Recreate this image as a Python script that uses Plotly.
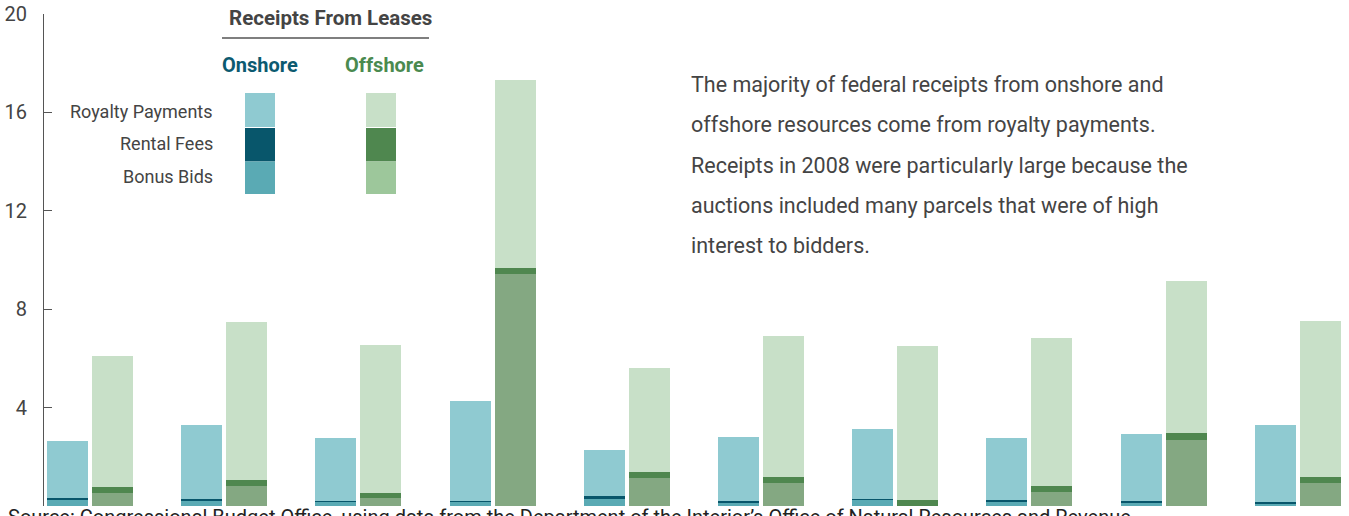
import plotly.graph_objects as go

# ---- data (billions of dollars) ----
years = ["2005", "2006", "2007", "2008", "2009", "2010", "2011", "2012", "2013", "2014"]
on_bonus = [0.26, 0.21, 0.17, 0.17, 0.32, 0.13, 0.26, 0.20, 0.16, 0.12]
on_rental = [0.05, 0.09, 0.05, 0.05, 0.08, 0.08, 0.04, 0.05, 0.04, 0.04]
on_royalty = [2.32, 2.98, 2.53, 4.03, 1.87, 2.58, 2.82, 2.50, 2.72, 3.12]
off_bonus = [0.53, 0.81, 0.32, 9.44, 1.13, 0.93, 0.02, 0.57, 2.67, 0.93]
off_rental = [0.24, 0.24, 0.21, 0.24, 0.25, 0.24, 0.22, 0.24, 0.29, 0.24]
off_royalty = [5.31, 6.44, 6.03, 7.65, 4.21, 5.76, 6.28, 6.03, 6.19, 6.36]
y_ticks = [0, 4, 8, 12, 16, 20]

# ---- style ----
ON_COLORS = {"royalty": "#8fcad1", "rental": "#08566b", "bonus": "#5aaab4"}
OFF_COLORS = {"royalty": "#c8e0c8", "rental": "#4f874f", "bonus": "#84a882"}
LEG_OFF_BONUS = "#9dc79b"
FONT = "Roboto"
W, H = 1349, 516
ML, MR, MT, MB = 44, 0, 14, 10
PW, PH = W - ML - MR, H - MT - MB

BAR_W = 0.3055
OFFSET = 0.1677
idx = list(range(len(years)))
x_on = [i - OFFSET for i in idx]
x_off = [i + OFFSET for i in idx]


def px(x):
    return (x - ML) / PW


def py(y):
    return 1 - (y - MT) / PH


fig = go.Figure()
for name, vals, key in [("Bonus Bids", on_bonus, "bonus"),
                        ("Rental Fees", on_rental, "rental"),
                        ("Royalty Payments", on_royalty, "royalty")]:
    fig.add_trace(go.Bar(x=x_on, y=vals, width=BAR_W, name="Onshore " + name,
                         marker=dict(color=ON_COLORS[key], line=dict(width=0)),
                         customdata=years, hovertemplate="%{customdata}: %{y}<extra>Onshore " + name + "</extra>",
                         showlegend=False))
for name, vals, key in [("Bonus Bids", off_bonus, "bonus"),
                        ("Rental Fees", off_rental, "rental"),
                        ("Royalty Payments", off_royalty, "royalty")]:
    fig.add_trace(go.Bar(x=x_off, y=vals, width=BAR_W, name="Offshore " + name,
                         marker=dict(color=OFF_COLORS[key], line=dict(width=0)),
                         customdata=years, hovertemplate="%{customdata}: %{y}<extra>Offshore " + name + "</extra>",
                         showlegend=False))

r0 = -46 / 134.2
r1 = r0 + PW / 134.2

fig.update_layout(
    width=W, height=H,
    margin=dict(l=ML, r=MR, t=MT, b=MB, autoexpand=False),
    barmode="stack",
    plot_bgcolor="white", paper_bgcolor="white",
    font=dict(family=FONT, color="#444"),
    xaxis=dict(range=[r0, r1], showticklabels=False, showgrid=False, zeroline=False,
               showline=False, ticks="", automargin=False),
    yaxis=dict(range=[0, 20], tickvals=y_ticks, showgrid=False, zeroline=False,
               showline=True, linecolor="#555", linewidth=1.2, automargin=False,
               ticks="inside", ticklen=8, tickcolor="#555", tickwidth=1.2,
               tickfont=dict(size=20, color="#444", family=FONT), ticklabelstandoff=12),
    bargap=0,
)

shapes = []
annotations = []

# legend header
annotations.append(dict(x=px(330), y=py(18), xref="paper", yref="paper", text="<b>Receipts From Leases</b>",
                        showarrow=False, xanchor="center", yanchor="middle",
                        font=dict(size=20.5, color="#444", family=FONT)))
shapes.append(dict(type="line", xref="paper", yref="paper", x0=px(222), x1=px(429), y0=py(38), y1=py(38),
                   line=dict(color="#555", width=1.5)))
annotations.append(dict(x=px(260), y=py(65), xref="paper", yref="paper", text="<b>Onshore</b>",
                        showarrow=False, xanchor="center", yanchor="middle",
                        font=dict(size=20, color="#0c5a70", family=FONT)))
annotations.append(dict(x=px(385), y=py(65), xref="paper", yref="paper", text="<b>Offshore</b>",
                        showarrow=False, xanchor="center", yanchor="middle",
                        font=dict(size=20, color="#4a8a4f", family=FONT)))

legend_rows = [("Royalty Payments", 93, 127, 111, ON_COLORS["royalty"], OFF_COLORS["royalty"]),
               ("Rental Fees", 128, 161.5, 143, ON_COLORS["rental"], OFF_COLORS["rental"]),
               ("Bonus Bids", 161.5, 194, 176, ON_COLORS["bonus"], LEG_OFF_BONUS)]
for label, top, bot, yc, c_on, c_off in legend_rows:
    shapes.append(dict(type="rect", xref="paper", yref="paper", x0=px(245), x1=px(275), y0=py(bot), y1=py(top),
                       fillcolor=c_on, line=dict(width=0), layer="above"))
    shapes.append(dict(type="rect", xref="paper", yref="paper", x0=px(366), x1=px(396), y0=py(bot), y1=py(top),
                       fillcolor=c_off, line=dict(width=0), layer="above"))
    annotations.append(dict(x=px(215), y=py(yc), xref="paper", yref="paper", text=label,
                            showarrow=False, xanchor="right", yanchor="middle",
                            font=dict(size=18, color="#444", family=FONT)))

# explanatory note
note_lines = ["The majority of federal receipts from onshore and",
              "offshore resources come from royalty payments.",
              "Receipts in 2008 were particularly large because the",
              "auctions included many parcels that were of high",
              "interest to bidders."]
for k, line in enumerate(note_lines):
    annotations.append(dict(x=px(689), y=py(85 + 40 * k), xref="paper", yref="paper", text=line,
                            showarrow=False, xanchor="left", yanchor="middle",
                            font=dict(size=21.5, color="#444", family=FONT)))

# source (cut off at the bottom of the view, as in the reference)
annotations.append(dict(x=px(6), y=py(503), xref="paper", yref="paper",
                        text="Source: Congressional Budget Office, using data from the Department of the Interior\u2019s Office of Natural Resources and Revenue.",
                        showarrow=False, xanchor="left", yanchor="top",
                        font=dict(size=20, color="#222", family=FONT)))

fig.update_layout(shapes=shapes, annotations=annotations)
fig.write_html("out.html", config={"displayModeBar": False},
               post_script="document.body.style.margin='0';document.body.style.overflow='hidden';")
